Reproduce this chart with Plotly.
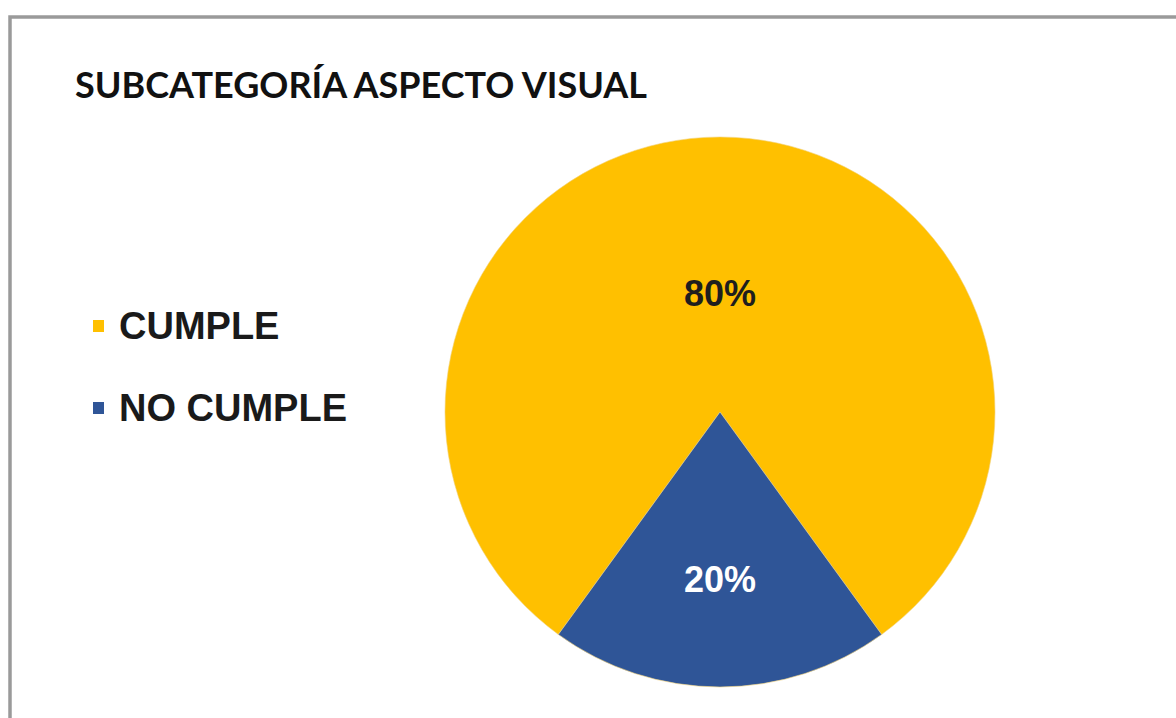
import math
import plotly.graph_objects as go

# Chart data
title_text = "SUBCATEGORÍA ASPECTO VISUAL"
labels = ["CUMPLE", "NO CUMPLE"]
values = [80, 20]
colors = ["#FFC000", "#2F5597"]
label_colors = ["#1E1E1E", "#FFFFFF"]
label_radius = [0.43, 0.61]  # radial position of each percentage label, as a fraction of the radius

W, H = 1176, 718


def fx(px):
    return px / W


def fy(py):
    return 1 - py / H


# Pie geometry in pixels
cx, cy, r = 720, 412, 275
start_angle = 216  # degrees clockwise from 12 o'clock

fig = go.Figure(
    go.Pie(
        labels=labels,
        values=values,
        sort=False,
        direction="clockwise",
        rotation=start_angle,
        marker=dict(colors=colors, line=dict(color="#F2D27A", width=0.6)),
        textinfo="none",
        showlegend=False,
        hoverinfo="label+percent",
        domain=dict(x=[fx(cx - r), fx(cx + r)], y=[fy(cy + r), fy(cy - r)]),
    )
)

shapes = []
# Frame (top and left edges visible)
shapes.append(dict(type="rect", xref="paper", yref="paper",
                   x0=fx(10), x1=1.02, y0=-0.02, y1=fy(17),
                   line=dict(color="#9A9A9A", width=3.5), fillcolor="rgba(0,0,0,0)", layer="below"))

annotations = [
    dict(text=title_text, xref="paper", yref="paper", x=fx(73), y=fy(84),
         xanchor="left", yanchor="middle", showarrow=False,
         font=dict(family="Lato", size=36, color="#111111", weight="bold")),
]

# Percentage labels placed on each slice's bisector
total = sum(values)
acc = 0
for v, tc, rf in zip(values, label_colors, label_radius):
    mid = start_angle + 360 * (acc + v / 2) / total
    acc += v
    a = math.radians(mid)
    lx = cx + rf * r * math.sin(a)
    ly = cy - rf * r * math.cos(a)
    annotations.append(dict(text=f"{v}%", xref="paper", yref="paper", x=fx(lx), y=fy(ly),
                            xanchor="center", yanchor="middle", showarrow=False,
                            font=dict(family="Liberation Sans", size=36, color=tc,
                                      weight="bold")))

# Legend drawn from the label / colour lists
legend_y = [326, 408]
for lab, col, ly in zip(labels, colors, legend_y):
    shapes.append(dict(type="rect", xref="paper", yref="paper",
                       x0=fx(93), x1=fx(104), y0=fy(ly + 6), y1=fy(ly - 6),
                       fillcolor=col, line=dict(width=0)))
    annotations.append(dict(text=lab, xref="paper", yref="paper", x=fx(117), y=fy(ly),
                            xanchor="left", yanchor="middle", showarrow=False,
                            font=dict(family="Liberation Sans", size=38, color="#1A1A1A",
                                      weight="bold")))

fig.update_layout(
    width=W, height=H,
    margin=dict(l=0, r=0, t=0, b=0),
    paper_bgcolor="#FFFFFF",
    plot_bgcolor="#FFFFFF",
    shapes=shapes,
    annotations=annotations,
)

fig.write_html("out.html")
